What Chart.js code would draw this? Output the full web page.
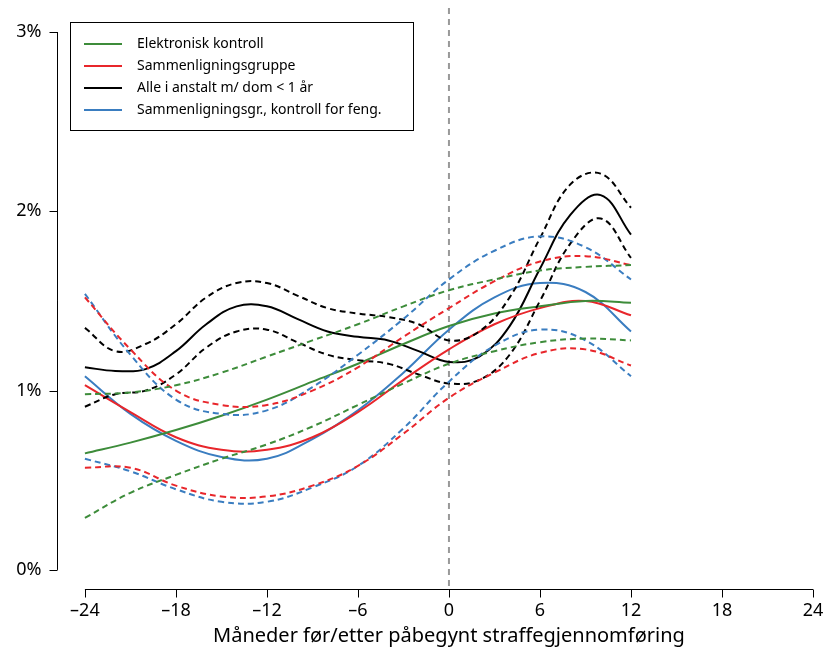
<!DOCTYPE html>
<html>
<head>
<meta charset="utf-8">
<script src="https://cdn.jsdelivr.net/npm/chart.js@4"></script>
<style>
  html, body { margin: 0; padding: 0; background: #fff; }
  #wrap { width: 827px; height: 655px; }
</style>
</head>
<body>
<div id="wrap"><canvas id="chart" width="827" height="655"></canvas></div>
<script>
const months = [-24, -21, -18, -15, -12, -9, -6, -3, 0, 3, 6, 9, 12];
const monthsBlack = [-24, -22, -20, -18, -16, -14, -12, -10, -8, -6, -4, -2, 0, 2, 4, 6, 8, 10, 12];

const greenMid = [0.65, 0.71, 0.78, 0.86, 0.95, 1.05, 1.15, 1.26, 1.36, 1.43, 1.47, 1.50, 1.49];
const greenHi = [0.98, 0.99, 1.03, 1.10, 1.19, 1.28, 1.37, 1.47, 1.56, 1.62, 1.67, 1.69, 1.70];
const greenLo = [0.29, 0.43, 0.53, 0.62, 0.70, 0.80, 0.92, 1.04, 1.15, 1.22, 1.27, 1.29, 1.28];

const redMid = [1.03, 0.88, 0.74, 0.67, 0.67, 0.74, 0.88, 1.06, 1.23, 1.37, 1.46, 1.50, 1.42];
const redHi = [1.52, 1.23, 1.00, 0.92, 0.92, 1.00, 1.13, 1.30, 1.46, 1.61, 1.72, 1.75, 1.70];
const redLo = [0.57, 0.57, 0.47, 0.41, 0.41, 0.47, 0.58, 0.76, 0.96, 1.10, 1.21, 1.23, 1.14];

const blueMid = [1.08, 0.87, 0.72, 0.63, 0.62, 0.73, 0.89, 1.10, 1.34, 1.52, 1.60, 1.55, 1.33];
const blueHi = [1.54, 1.20, 0.95, 0.87, 0.89, 1.02, 1.20, 1.40, 1.62, 1.78, 1.86, 1.80, 1.62];
const blueLo = [0.62, 0.55, 0.45, 0.38, 0.38, 0.46, 0.58, 0.79, 1.05, 1.25, 1.34, 1.28, 1.08];

const blackMid = [1.13, 1.11, 1.12, 1.22, 1.37, 1.47, 1.47, 1.40, 1.33, 1.30, 1.28, 1.22, 1.16, 1.19, 1.36, 1.68, 1.98, 2.09, 1.87];
const blackHi = [1.35, 1.22, 1.26, 1.37, 1.52, 1.60, 1.60, 1.53, 1.46, 1.43, 1.41, 1.37, 1.28, 1.33, 1.52, 1.85, 2.15, 2.21, 2.02];
const blackLo = [0.91, 0.98, 1.00, 1.09, 1.24, 1.33, 1.34, 1.27, 1.20, 1.17, 1.15, 1.09, 1.04, 1.06, 1.20, 1.50, 1.82, 1.96, 1.74];

const xTicks = [-24, -18, -12, -6, 0, 6, 12, 18, 24];
const yTicks = [0, 1, 2, 3];
const yTickLabels = ['0%', '1%', '2%', '3%'];
const legendLabels = ['Elektronisk kontroll', 'Sammenligningsgruppe', 'Alle i anstalt m/ dom < 1 år', 'Sammenligningsgr., kontroll for feng.'];

const GREEN = '#3d8c3a', RED = '#e8262b', BLACK = '#000000', BLUE = '#3a7dc0';
const legendColors = [GREEN, RED, BLACK, BLUE];
const FONT = '"Noto Sans", sans-serif';

const toPoints = (xs, ys) => xs.map((x, i) => ({ x, y: ys[i] }));
const line = (xs, ys, color, dashed) => ({
    data: toPoints(xs, ys),
    borderColor: color,
    borderWidth: 2,
    borderDash: dashed ? [6, 4] : [],
    pointRadius: 0,
    tension: 0.4,
    fill: false
});

const axesPlugin = {
    id: 'axes',
    beforeDatasetsDraw(chart) {
        const { ctx, scales: { x, y }, chartArea } = chart;
        ctx.save();
        ctx.strokeStyle = '#999';
        ctx.lineWidth = 2;
        ctx.setLineDash([6, 5]);
        ctx.beginPath();
        ctx.moveTo(x.getPixelForValue(0), 8);
        ctx.lineTo(x.getPixelForValue(0), chartArea.bottom);
        ctx.stroke();
        ctx.restore();
    },
    afterDraw(chart) {
        const { ctx, scales: { x, y }, chartArea } = chart;
        ctx.save();
        ctx.strokeStyle = '#000';
        ctx.fillStyle = '#000';
        ctx.lineWidth = 1;
        // y axis
        const ax = chartArea.left + 0.5;
        ctx.beginPath();
        ctx.moveTo(ax, y.getPixelForValue(3));
        ctx.lineTo(ax, y.getPixelForValue(0));
        yTicks.forEach(v => {
            const py = Math.round(y.getPixelForValue(v)) + 0.5;
            ctx.moveTo(ax, py);
            ctx.lineTo(ax - 8, py);
        });
        ctx.stroke();
        ctx.font = '18px ' + FONT;
        ctx.textAlign = 'right';
        ctx.textBaseline = 'middle';
        yTicks.forEach((v, i) => ctx.fillText(yTickLabels[i], ax - 16, y.getPixelForValue(v)));
        // x axis
        const ay = chartArea.bottom - 0.5;
        ctx.beginPath();
        ctx.moveTo(x.getPixelForValue(-24), ay);
        ctx.lineTo(x.getPixelForValue(24), ay);
        xTicks.forEach(v => {
            const px = Math.round(x.getPixelForValue(v)) + 0.5;
            ctx.moveTo(px, ay);
            ctx.lineTo(px, ay + 8);
        });
        ctx.stroke();
        ctx.textAlign = 'center';
        ctx.textBaseline = 'top';
        xTicks.forEach(v => ctx.fillText(v < 0 ? '\u2013' + Math.abs(v) : String(v), x.getPixelForValue(v), ay + 12));
        ctx.font = '20px ' + FONT;
        ctx.fillText('Måneder før/etter påbegynt straffegjennomføring', x.getPixelForValue(0), 626);
        // legend
        ctx.fillStyle = '#fff';
        ctx.fillRect(70, 22, 343, 108);
        ctx.strokeRect(70.5, 22.5, 343, 108);
        ctx.font = '14px ' + FONT;
        ctx.textAlign = 'left';
        ctx.textBaseline = 'middle';
        legendLabels.forEach((label, i) => {
            const ly = 44 + i * 22;
            ctx.strokeStyle = legendColors[i];
            ctx.lineWidth = 2;
            ctx.beginPath();
            ctx.moveTo(84, ly);
            ctx.lineTo(122, ly);
            ctx.stroke();
            ctx.fillStyle = '#000';
            ctx.fillText(label, 137, ly);
        });
        ctx.restore();
    }
};

new Chart(document.getElementById('chart'), {
    type: 'line',
    data: {
        datasets: [
            line(months, greenHi, GREEN, true),
            line(months, greenLo, GREEN, true),
            line(months, redHi, RED, true),
            line(months, redLo, RED, true),
            line(months, blueHi, BLUE, true),
            line(months, blueLo, BLUE, true),
            line(monthsBlack, blackHi, BLACK, true),
            line(monthsBlack, blackLo, BLACK, true),
            line(months, greenMid, GREEN, false),
            line(months, redMid, RED, false),
            line(monthsBlack, blackMid, BLACK, false),
            line(months, blueMid, BLUE, false)
        ]
    },
    options: {
        responsive: false,
        animation: false,
        layout: { padding: { left: 57, right: 14, top: 32, bottom: 65 } },
        plugins: { legend: { display: false }, tooltip: { enabled: false } },
        scales: {
            x: { type: 'linear', display: false, min: -25.84, max: 24 },
            y: { type: 'linear', display: false, min: -0.112, max: 3 }
        }
    },
    plugins: [axesPlugin]
});
</script>
</body>
</html>
